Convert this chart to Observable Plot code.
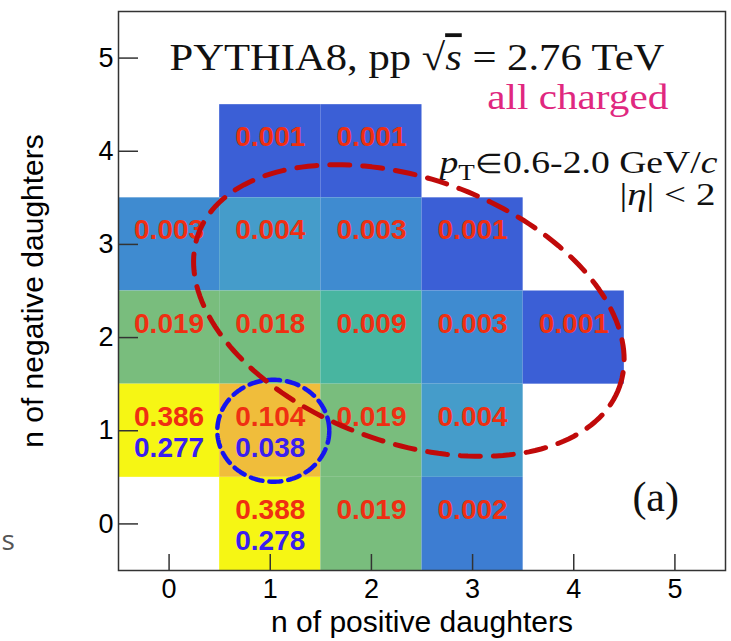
<!DOCTYPE html>
<html><head><meta charset="utf-8">
<script src="https://cdn.jsdelivr.net/npm/d3@7"></script>
<script src="https://cdn.jsdelivr.net/npm/@observablehq/plot@0.6"></script>
<style>
html,body{margin:0;padding:0;background:#fff;}
#chart svg{display:block;}
</style>
</head><body><div id="chart"></div>
<script>
// ---- data ----
const posDaughters = [1, 2, 0, 1, 2, 3, 0, 1, 2, 3, 4, 0, 1, 2, 3, 1, 2, 3];
const negDaughters = [4, 4, 3, 3, 3, 3, 2, 2, 2, 2, 2, 1, 1, 1, 1, 0, 0, 0];
const fractions    = [0.001, 0.001, 0.003, 0.004, 0.003, 0.001, 0.019, 0.018, 0.009, 0.003, 0.001,
                      0.386, 0.104, 0.019, 0.004, 0.388, 0.019, 0.002];
const secondPos = [0, 1, 1];
const secondNeg = [1, 1, 0];
const secondValues = [0.277, 0.038, 0.278];
const tickValues = [0, 1, 2, 3, 4, 5];
const colorStops = [0.001, 0.002, 0.003, 0.004, 0.009, 0.0185, 0.104, 0.387];
const colorRange = ["#3b5fd6", "#3d7dd2", "#3f8bd0", "#459cca", "#48b5a0", "#77bd7e", "#f0bd3b", "#f6f614"];

const cells = fractions.map((v, i) => ({x: posDaughters[i], y: negDaughters[i], v}));
const seconds = secondValues.map((v, i) => ({x: secondPos[i], y: secondNeg[i], v}));

// ---- layout ----
const W = 731, H = 641, mL = 118, mR = 6, mT = 11, mB = 71;
const kx = (W - mL - mR) / 6, ky = (H - mT - mB) / 6;

// dashed ellipse outline (annotation) in data units
function ellipse(cx, cy, a, b, tiltDeg) {
  const th = tiltDeg * Math.PI / 180;
  return d3.range(0, 360, 2).map(deg => {
    const t = deg * Math.PI / 180;
    const X = a * Math.cos(t) * Math.cos(th) - b * Math.sin(t) * Math.sin(th);
    const Y = a * Math.cos(t) * Math.sin(th) + b * Math.sin(t) * Math.cos(th);
    return {x: cx + X / kx, y: cy - Y / ky};
  });
}
const redRing = ellipse(2.37, 2.29, 224, 132, 20);
const hi = cells.find(d => d.x === 1 && d.y === 1);
const blueRing = ellipse(hi.x + 0.03, hi.y, 56, 51, 0);

const serif = "'Liberation Serif', 'Times New Roman', serif";

const chart = Plot.plot({
  width: W, height: H,
  marginLeft: mL, marginRight: mR, marginTop: mT, marginBottom: mB,
  x: {domain: [-0.5, 5.5]},
  y: {domain: [-0.5, 5.5]},
  color: {type: "log", domain: colorStops, range: colorRange},
  style: {fontFamily: "'Liberation Sans', Arial, sans-serif", background: "#fff", color: "#000", fontSize: "27px"},
  marks: [
    Plot.rect(cells, {x1: d => d.x - 0.5, x2: d => d.x + 0.5, y1: d => d.y - 0.5, y2: d => d.y + 0.5, fill: "v"}),
    Plot.text(cells, {x: "x", y: "y", text: d => d.v.toFixed(3), dy: -14, fill: "#ef2f12",
      fontWeight: "bold", fontSize: 28, lineAnchor: "middle"}),
    Plot.text(seconds, {x: "x", y: "y", text: d => d.v.toFixed(3), dy: 17, fill: "#3a1ef0",
      fontWeight: "bold", fontSize: 28, lineAnchor: "middle"}),
    Plot.frame({stroke: "#333", strokeWidth: 1.5}),
    Plot.ruleY(tickValues, {x1: -0.5, x2: -0.5 + 20 / kx, stroke: "#333", strokeWidth: 1.5}),
    Plot.ruleX(tickValues, {y1: -0.5, y2: -0.5 + 16 / ky, stroke: "#333", strokeWidth: 1.5}),
    Plot.axisX(tickValues, {tickSize: 0, tickPadding: 8, fontSize: 27, tickFormat: d => String(d), label: null}),
    Plot.axisY(tickValues, {tickSize: 0, tickPadding: 5, fontSize: 27, tickFormat: d => String(d), label: null}),
    Plot.text(["n of positive daughters"], {frameAnchor: "bottom", text: d => d, dy: 61,
      lineAnchor: "bottom", textAnchor: "middle", fontSize: 30}),
    Plot.text(["n of negative daughters"], {frameAnchor: "left", text: d => d, dx: -85,
      rotate: -90, lineAnchor: "middle", textAnchor: "middle", fontSize: 30}),
    // annotations
    Plot.text(["PYTHIA8, pp √s = 2.76 TeV"], {x: 2.45, y: 5, text: d => d, fontFamily: serif,
      fontSize: 38, lineAnchor: "middle", fill: "#111"}),
    Plot.text(["all charged"], {x: 4.04, y: 4.45, text: d => d, fontFamily: serif,
      fontSize: 36, lineAnchor: "bottom", fill: "#e0287f"}),
    Plot.text(["pT∈0.6-2.0 GeV/c"], {x: 5.42, y: 3.77, text: d => d, fontFamily: serif,
      fontSize: 32, lineAnchor: "bottom", textAnchor: "end", fill: "#111"}),
    Plot.text(["|η| < 2"], {x: 5.40, y: 3.42, text: d => d, fontFamily: serif,
      fontSize: 32, lineAnchor: "bottom", textAnchor: "end", fill: "#111"}),
    Plot.text(["(a)"], {x: 4.81, y: 0.28, text: d => d, fontFamily: serif,
      fontSize: 42, lineAnchor: "middle", fill: "#111"}),
    Plot.text(["s"], {x: -1.59, y: -0.18, text: d => d, fontFamily: "'Open Sans', sans-serif",
      fontSize: 28, lineAnchor: "middle", fill: "#555"}),
    Plot.line(blueRing, {x: "x", y: "y", curve: "linear-closed", stroke: "#1515f0",
      strokeWidth: 4.5, strokeDasharray: "12,7"}),
    Plot.line(redRing, {x: "x", y: "y", curve: "linear-closed", stroke: "#c00a0a",
      strokeWidth: 5, strokeDasharray: "20,13"})
  ]
});

// typographic refinements of the math annotations
const NS = "http://www.w3.org/2000/svg";
function enrich(plain, parts, length) {
  chart.querySelectorAll("text").forEach(t => {
    if (t.textContent !== plain) return;
    if (parts) {
      while (t.firstChild) t.removeChild(t.firstChild);
      parts.forEach(p => {
        const ts = document.createElementNS(NS, "tspan");
        ts.textContent = p.t;
        if (p.i) ts.setAttribute("font-style", "italic");
        if (p.o) ts.setAttribute("text-decoration", "overline");
        if (p.dy) ts.setAttribute("dy", p.dy);
        if (p.fs) ts.setAttribute("font-size", p.fs);
        t.appendChild(ts);
      });
    }
    if (length) { t.setAttribute("textLength", length); t.setAttribute("lengthAdjust", "spacingAndGlyphs"); }
  });
}
enrich("PYTHIA8, pp √s = 2.76 TeV",
  [{t: "PYTHIA8, pp √"}, {t: "s", i: 1, o: 1}, {t: " = 2.76 TeV"}], 495);
enrich("all charged", null, 181);
enrich("pT∈0.6-2.0 GeV/c",
  [{t: "p", i: 1}, {t: "T", dy: 7, fs: 23}, {t: "∈", dy: -7, fs: 27}, {t: "0.6-2.0 GeV/"}, {t: "c", i: 1}], 278);
enrich("|η| < 2", [{t: "|"}, {t: "η", i: 1}, {t: "| < 2"}], 96);

document.getElementById("chart").appendChild(chart);
</script>
</body></html>
